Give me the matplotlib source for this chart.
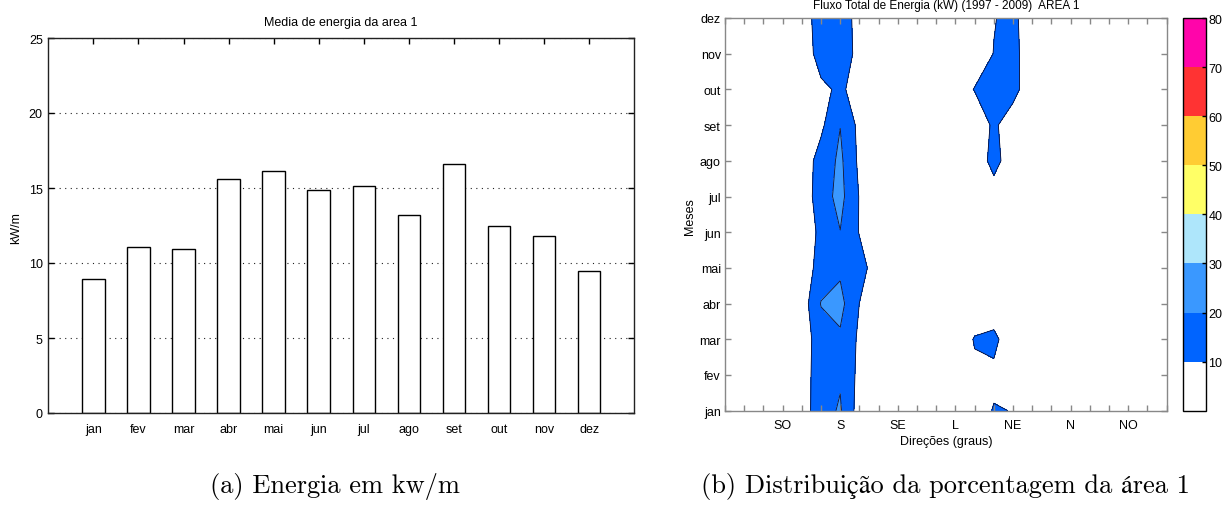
import numpy as np
import matplotlib.pyplot as plt

plt.rcParams['font.family'] = 'Liberation Sans'

# Painel (a): media mensal de energia (kW/m)
meses = ['jan', 'fev', 'mar', 'abr', 'mai', 'jun', 'jul', 'ago', 'set', 'out', 'nov', 'dez']
energia_media = [8.95, 11.1, 10.92, 15.63, 16.12, 14.88, 15.14, 13.21, 16.61, 12.5, 11.81, 9.46]
ticks_energia = [0, 5, 10, 15, 20, 25]

# Painel (b): fluxo total por direcao (graus) e mes
direcoes = [0, 15, 30, 45, 60, 75, 90, 105, 120, 135, 150, 165,
            180, 195, 210, 225, 240, 255, 270, 285, 300, 315, 330, 345]
rotulos_dir = {45: 'SO', 90: 'S', 135: 'SE', 180: 'L', 225: 'NE', 270: 'N', 315: 'NO'}
mes_idx = [1, 2, 3, 4, 5, 6, 7, 8, 9, 10, 11, 12]
fluxo = [
    [2, 2, 2, 2, 4.5, 16.5, 21.0, 5.6, 2, 2, 2, 2, 2, 3.7, 10.8, 9.7, 2, 2, 2, 2, 2, 2, 2, 2],    # jan
    [2, 2, 2, 2, 5.4, 15.0, 18.9, 7.3, 2, 2, 2, 2, 2, 7.8, 7.0, 2, 2, 2, 2, 2, 2, 2, 2, 2],       # fev
    [2, 2, 2, 2, 4.7, 15.0, 18.5, 8.2, 2, 2, 2, 2, 2, 10.8, 13.5, 0.5, 2, 2, 2, 2, 2, 2, 2, 2],   # mar
    [2, 2, 2, 2, 4.6, 20.5, 23.0, 9.9, 2, 2, 2, 2, 2, 2, 0.5, 2, 2, 2, 2, 2, 2, 2, 2, 2],         # abr
    [2, 2, 2, 2, 4.0, 14.0, 18.3, 14.0, 4.3, 2, 2, 2, 2, 2, 2, 2, 2, 2, 2, 2, 2, 2, 2, 2],        # mai
    [2, 2, 2, 2, 4.3, 12.0, 19.8, 9.5, 2, 2, 2, 2, 2, 2, 2, 2, 2, 2, 2, 2, 2, 2, 2, 2],           # jun
    [2, 2, 2, 2, 3.4, 15.5, 23.0, 9.5, 2, 2, 2, 2, 2, 2, 7.2, 2, 2, 2, 2, 2, 2, 2, 2, 2],         # jul
    [2, 2, 2, 2, 4.0, 14.0, 22.0, 7.9, 2, 2, 2, 2, 2, 6.1, 12.0, 6.6, 2, 2, 2, 2, 2, 2, 2, 2],    # ago
    [2, 2, 2, 2, 2, 8.0, 19.8, 7.3, 2, 2, 2, 2, 2, 2, 12.0, 3.4, 2, 2, 2, 2, 2, 2, 2, 2],         # set
    [2, 2, 2, 2, 2, 8.1, 11.5, 6.3, 2, 2, 2, 2, 4.0, 10.5, 15.0, 14.0, 2, 2, 2, 2, 2, 2, 2, 2],   # out
    [2, 2, 2, 2, 4.0, 14.0, 15.0, 7.3, 2, 2, 2, 2, 2, 3.0, 10.3, 14.0, 2, 2, 2, 2, 2, 2, 2, 2],   # nov
    [2, 2, 2, 2, 4.7, 15.0, 16.0, 6.0, 2, 2, 2, 2, 2, 3.0, 9.5, 13.0, 2, 2, 2, 2, 2, 2, 2, 2],    # dez
]
niveis = [0, 10, 20, 30, 40, 50, 60, 70, 80]
cores = ['#ffffff', '#0064ff', '#3a98ff', '#aee6fb', '#ffff66', '#ffcc33', '#ff3333', '#ff05aa']

W, H = 1222, 506
fig = plt.figure(figsize=(W / 100, H / 100), dpi=100)

# ---- (a) barras
ax1 = fig.add_axes([48.3 / W, 1 - 414 / H, 586 / W, 375 / H])
x = np.arange(1, len(meses) + 1)
ax1.bar(x, energia_media, width=0.5, color='white', edgecolor='black', linewidth=1.0, zorder=2)
ax1.set_xlim(0, 13)
ax1.set_ylim(0, 25)
ax1.set_xticks(x)
ax1.set_xticklabels(meses)
ax1.set_yticks(ticks_energia)
ax1.yaxis.grid(True, linestyle=(0, (1, 4)), color='#222222', linewidth=0.8)
ax1.set_axisbelow(True)
ax1.tick_params(direction='in', top=True, right=True, length=4, width=1, labelsize=9)
ax1.tick_params(axis='x', pad=7)
ax1.tick_params(axis='y', pad=4)
for s in ax1.spines.values():
    s.set_linewidth(1.0)
    s.set_color('#222222')
fig.text(341 / W, 1 - 22.7 / H, 'Media de energia da area 1', ha='center', va='center', fontsize=9)
fig.text(16.6 / W, 1 - 228 / H, 'kW/m', rotation=90, ha='center', va='center', fontsize=9)

# ---- (b) contorno
ax2 = fig.add_axes([725 / W, 1 - 411.7 / H, 441.7 / W, 392.7 / H])
cf = ax2.contourf(direcoes, mes_idx, np.array(fluxo), levels=niveis, colors=cores)
ax2.contour(direcoes, mes_idx, np.array(fluxo), levels=niveis[1:-1], colors='#101030', linewidths=0.6)
ax2.set_xlim(direcoes[0], direcoes[-1])
ax2.set_ylim(1, 12)
ax2.set_xticks(direcoes)
ax2.set_xticklabels([rotulos_dir.get(d, '') for d in direcoes])
ax2.set_yticks(mes_idx)
ax2.set_yticklabels(meses)
ax2.tick_params(direction='in', top=True, right=True, length=4, width=1, color='#888888',
                labelsize=9)
ax2.tick_params(axis='x', pad=6)
ax2.tick_params(axis='y', pad=3)
for s in ax2.spines.values():
    s.set_color('#888888')
    s.set_linewidth(1.0)
fig.text(945.8 / W, 1 - 6 / H, 'Fluxo Total de Energia (kW) (1997 - 2009)  AREA 1',
         ha='center', va='center', fontsize=8.5)
fig.text(945.8 / W, 1 - 441.7 / H, 'Direções (graus)', ha='center', va='center', fontsize=9)
fig.text(690.5 / W, 1 - 216.7 / H, 'Meses', rotation=90, ha='center', va='center', fontsize=9)

# colorbar
cax = fig.add_axes([1182.7 / W, 1 - 411.7 / H, 23 / W, 392.7 / H])
cb = fig.colorbar(cf, cax=cax, ticks=niveis[1:], spacing='proportional')
cb.outline.set_linewidth(1.0)
cb.outline.set_edgecolor('black')
cax.tick_params(direction='in', length=3, width=1, labelsize=9, pad=2)

# legendas das subfiguras
serif = ['cmr10', 'STIXGeneral', 'DejaVu Serif']
fig.text(335 / W, 1 - 487 / H, '(a) Energia em kw/m', ha='center', va='center',
         fontsize=19, family=serif)
fig.text(945 / W, 1 - 487 / H, '(b) Distribuição da porcentagem da área 1', ha='center',
         va='center', fontsize=19, family=serif)

fig.savefig('out.png', dpi=100)
